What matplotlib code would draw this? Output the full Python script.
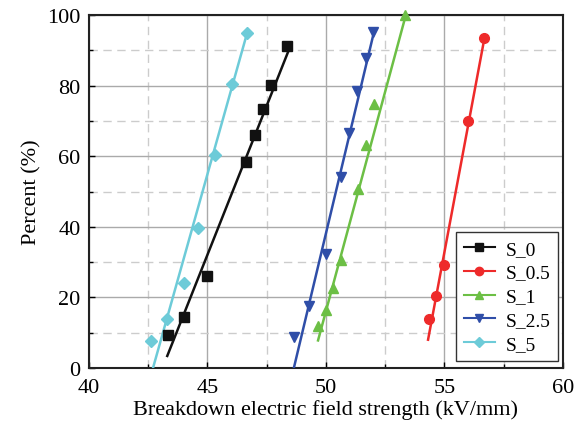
import matplotlib
matplotlib.use("Agg")
import matplotlib.pyplot as plt
from matplotlib.ticker import MultipleLocator

plt.rcParams['font.family'] = ['Liberation Serif', 'DejaVu Serif']

labels = ["S_0", "S_0.5", "S_1", "S_2.5", "S_5"]
colors = ["#111111", "#ee2a2a", "#6cbf45", "#2f4ea8", "#6dcbd8"]
markers = ["s", "o", "^", "v", "D"]

s0_x = [43.34, 44.01, 44.99, 46.65, 47.01, 47.33, 47.68, 48.34]
s0_y = [9.4, 14.4, 26.0, 58.5, 66.1, 73.5, 80.3, 91.3]
s05_x = [54.33, 54.66, 55.0, 56.01, 56.67]
s05_y = [13.9, 20.3, 29.3, 70.0, 93.6]
s1_x = [49.66, 50.0, 50.31, 50.63, 51.34, 51.68, 52.03, 53.33]
s1_y = [11.8, 16.3, 22.7, 30.5, 50.7, 63.2, 74.9, 100.0]
s25_x = [48.65, 49.3, 49.99, 50.63, 50.98, 51.33, 51.68, 52.0]
s25_y = [8.7, 17.5, 32.2, 54.0, 66.7, 78.4, 87.9, 95.2]
s5_x = [42.64, 43.31, 44.01, 44.61, 45.31, 46.02, 46.68]
s5_y = [7.5, 13.9, 24.1, 39.8, 60.4, 80.6, 94.9]

# fitted line end points
fit_x = [[43.31, 48.40], [54.31, 56.69], [49.67, 53.37], [48.65, 52.02], [42.71, 46.68]]
fit_y = [[3.4, 89.5], [8.0, 93.6], [7.8, 100.0], [0.0, 95.0], [0.0, 95.0]]

xs = [s0_x, s05_x, s1_x, s25_x, s5_x]
ys = [s0_y, s05_y, s1_y, s25_y, s5_y]

fig = plt.figure(figsize=(5.84, 4.27), dpi=100)
ax = fig.add_axes([0.152, 0.136, 0.812, 0.826])

for i in range(5):
    ax.plot(fit_x[i], fit_y[i], color=colors[i], lw=1.8, zorder=3)
    ax.plot(xs[i], ys[i], ls='none', marker=markers[i], color=colors[i],
            ms=7 if markers[i] != 'D' else 6, zorder=4, clip_on=False)

# legend proxies
handles = [plt.Line2D([], [], color=colors[i], marker=markers[i], lw=1.5,
                      ms=6 if markers[i] != 'D' else 5) for i in range(5)]
leg = ax.legend(handles, labels, loc='lower right', bbox_to_anchor=(0.99, 0.02),
                borderaxespad=0, fontsize=14, frameon=True, fancybox=False,
                edgecolor='#333333', framealpha=1,
                handlelength=1.6, labelspacing=0.32, borderpad=0.4,
                handletextpad=0.55)
leg.get_frame().set_linewidth(1.0)

ax.set_xlim(40, 60)
ax.set_ylim(0, 100)
ax.xaxis.set_major_locator(MultipleLocator(5))
ax.xaxis.set_minor_locator(MultipleLocator(2.5))
ax.yaxis.set_major_locator(MultipleLocator(20))
ax.yaxis.set_minor_locator(MultipleLocator(10))
ax.grid(which='major', color='#aaaaaa', lw=1.0, ls='-', zorder=0)
ax.grid(which='minor', color='#cccccc', lw=1.0, ls=(0, (6, 4)), zorder=0)
ax.set_axisbelow(True)
ax.tick_params(which='both', direction='in', labelsize=16, length=4, width=1,
               top=False, right=False)
ax.tick_params(which='minor', length=3)
ax.tick_params(axis='x', which='major', pad=7)
ax.tick_params(axis='y', which='major', pad=6)
for s in ax.spines.values():
    s.set_linewidth(1.5)
    s.set_color('#222222')

ax.set_xlabel('Breakdown electric field strength (kV/mm)', fontsize=16, labelpad=2)
ax.set_ylabel('Percent (%)', fontsize=16, labelpad=4)

fig.savefig('out.png', dpi=100)
